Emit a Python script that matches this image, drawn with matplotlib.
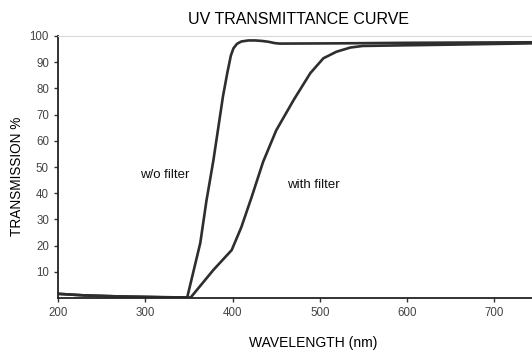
import matplotlib
matplotlib.use('Agg')
import matplotlib.pyplot as plt

plt.rcParams['font.family'] = ['Liberation Sans', 'DejaVu Sans']

# w/o filter
wl_nofilter = [200, 230, 270, 320, 348, 363, 370, 378, 389, 394, 398, 401, 405, 410, 418, 426, 434, 441, 448, 454, 523, 600, 743]
tr_nofilter = [1.6, 1.0, 0.6, 0.3, 0.2, 21, 37, 52.5, 77, 86, 92.5, 95.3, 97.0, 97.9, 98.3, 98.3, 98.1, 97.8, 97.3, 97.1, 97.2, 97.4, 97.6]

# with filter
wl_filter = [200, 230, 270, 320, 352, 378, 399, 410, 422, 435, 450, 470, 489, 504, 519, 535, 549, 588, 650, 743]
tr_filter = [1.6, 1.0, 0.6, 0.3, 0.2, 10.7, 18.3, 27, 38.7, 52, 64, 75.6, 85.8, 91.5, 94.0, 95.6, 96.2, 96.4, 96.7, 97.2]

xticks = [200, 300, 400, 500, 600, 700]
yticks = [10, 20, 30, 40, 50, 60, 70, 80, 90, 100]

fig = plt.figure(figsize=(5.32, 3.5), dpi=100)
ax = fig.add_axes([58 / 532, 1 - 298 / 350, 1 - 58 / 532, (298 - 36) / 350])

line_col = '#2e2e2e'
ax.plot(wl_nofilter, tr_nofilter, color=line_col, lw=1.9, solid_capstyle='round', solid_joinstyle='round')
ax.plot(wl_filter, tr_filter, color=line_col, lw=1.9, solid_capstyle='round', solid_joinstyle='round')

ax.set_xlim(200, 743)
ax.set_ylim(0, 100)
ax.set_xticks(xticks)
ax.set_yticks(yticks)
ax.tick_params(axis='both', labelsize=8.3, colors='#333333', labelcolor='#444444', length=3, width=1)
ax.spines['right'].set_visible(False)
ax.spines['top'].set_color('#d8d8d8')
ax.spines['left'].set_color('#222222')
ax.spines['bottom'].set_color('#222222')
ax.spines['left'].set_linewidth(1.3)
ax.spines['bottom'].set_linewidth(1.3)

ax.text(322, 47, 'w/o filter', fontsize=9.5, ha='center', va='center', color='#111111')
ax.text(493, 43, 'with filter', fontsize=9.5, ha='center', va='center', color='#111111')

fig.text(299 / 532, 1 - 20 / 350, 'UV TRANSMITTANCE CURVE', fontsize=11.5, ha='center', va='center')
fig.text(313 / 532, 1 - 343 / 350, 'WAVELENGTH (nm)', fontsize=10, ha='center', va='center')
fig.text(17 / 532, 1 - 176 / 350, 'TRANSMISSION %', fontsize=9.8, ha='center', va='center', rotation=90)

fig.savefig('out.png', dpi=100)
